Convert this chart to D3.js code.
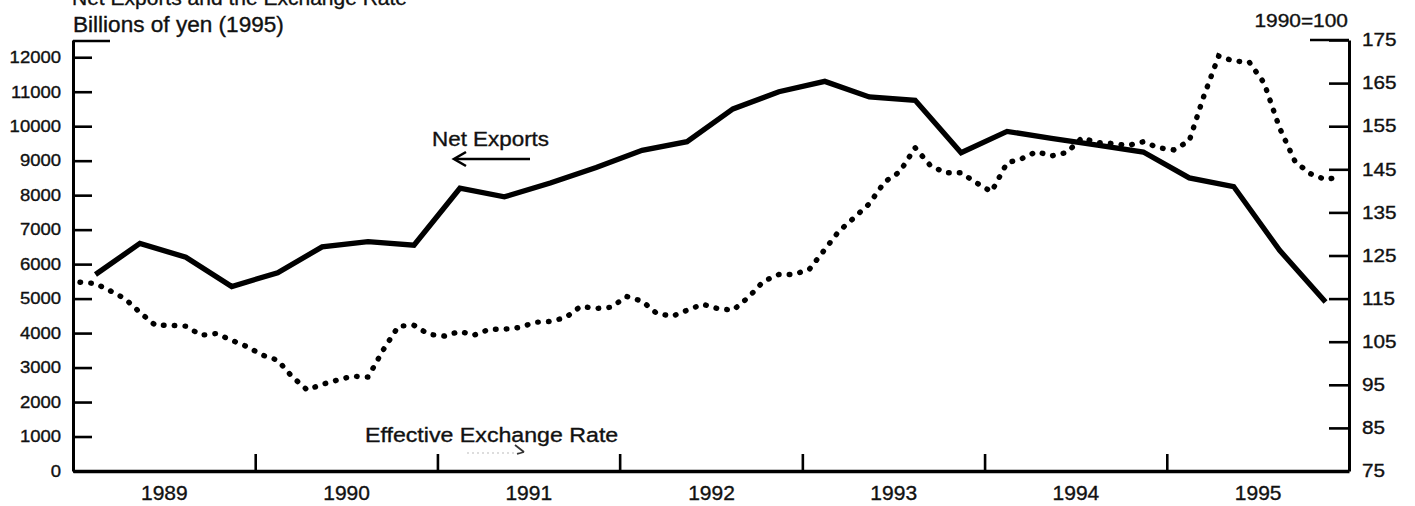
<!DOCTYPE html>
<html>
<head>
<meta charset="utf-8">
<script src="https://cdn.jsdelivr.net/npm/d3@7/dist/d3.min.js"></script>
<style>
  html, body { margin: 0; padding: 0; background: #fff; }
  svg { display: block; }
  text { font-family: "Liberation Sans", Arial, Helvetica, sans-serif; fill: #111; stroke: #111; stroke-width: 0.35px; }
</style>
</head>
<body>
<svg id="chart" width="1415" height="506"></svg>
<script>
// Calendar years shown on the time axis
const years = [1989, 1990, 1991, 1992, 1993, 1994, 1995];

// Net exports, billions of 1995 yen, quarterly (1989 Q1 .. 1995 Q4)
const netExports = [
  5700, 6600, 6200, 5350,
  5750, 6500, 6650, 6550,
  8200, 7950, 8350, 8800,
  9300, 9550, 10500, 11000,
  11300, 10850, 10750, 9230,
  9850, 9650, 9450, 9250,
  8500, 8250, 6400, 4900
];

// Effective exchange rate of the yen, 1990=100, monthly (Jan 1989 .. Dec 1995)
const exchangeRate = [
  118.8, 118.5, 116.9, 115.0, 111.8, 108.8, 108.8, 108.6, 106.5, 106.9, 105.3, 103.9,
  101.9, 100.7, 97.0, 93.8, 95.1, 96.1, 97.0, 96.8, 103.2, 108.6, 108.8, 106.7,
  106.3, 107.4, 106.5, 107.9, 107.9, 108.3, 109.5, 109.7, 110.6, 113.2, 112.7, 113.0,
  115.5, 114.4, 111.6, 110.9, 112.3, 113.7, 112.7, 112.3, 115.3, 119.0, 120.6, 120.6,
  121.8, 126.4, 130.6, 133.8, 137.0, 142.1, 144.4, 150.0, 145.8, 144.2, 144.2, 141.9,
  139.8, 146.5, 147.4, 149.1, 148.1, 148.9, 152.3, 151.2, 151.0, 150.5, 151.4, 150.0,
  149.5, 151.6, 161.6, 171.3, 170.1, 169.9, 165.0, 154.6, 146.8, 144.0, 142.6, 143.3
];

// Axis ticks
const leftTicks = d3.range(0, 12001, 1000);
const rightTicks = [75, 85, 95, 105, 115, 125, 135, 145, 155, 165, 175];
const leftDomain = [0, 12500];
const rightDomain = [75, 175];

// Texts
const titleText = "Net Exports and the Exchange Rate";
const leftUnit = "Billions of yen (1995)";
const rightUnit = "1990=100";
const netLabel = "Net Exports";
const rateLabel = "Effective Exchange Rate";

// ---------------------------------------------------------------
const svg = d3.select("#chart");
const plot = { left: 73, right: 1349, top: 40, bottom: 471 };

const x = d3.scaleTime()
  .domain([new Date(years[0], 0, 1), new Date(years[years.length - 1] + 1, 0, 1)])
  .range([plot.left, plot.right]);
const yL = d3.scaleLinear().domain(leftDomain).range([plot.bottom, plot.top]);
const yR = d3.scaleLinear().domain(rightDomain).range([plot.bottom, plot.top]);

// widen glyphs horizontally to the printed proportions
function widen(sel, factor) {
  sel.each(function () {
    const len = this.getComputedTextLength();
    d3.select(this).attr("textLength", len * factor).attr("lengthAdjust", "spacingAndGlyphs");
  });
}

// Series points
const neData = netExports.map((v, i) => ({
  date: new Date(years[0] + Math.floor(i / 4), (i % 4) * 3 + 1, 15), v
}));
const erData = exchangeRate.map((v, i) => ({
  date: new Date(years[0] + Math.floor(i / 12), i % 12, 15), v
}));

// Exchange rate: dotted line on the right scale
svg.append("path")
  .datum(erData)
  .attr("fill", "none")
  .attr("stroke", "#000")
  .attr("stroke-width", 5.4)
  .attr("stroke-linecap", "round")
  .attr("stroke-dasharray", "0.6 10.2")
  .attr("d", d3.line().x(d => x(d.date)).y(d => yR(d.v)));

// Net exports: heavy solid line on the left scale
svg.append("path")
  .datum(neData)
  .attr("fill", "none")
  .attr("stroke", "#000")
  .attr("stroke-width", 5.3)
  .attr("stroke-linejoin", "miter")
  .attr("d", d3.line().x(d => x(d.date)).y(d => yL(d.v)));

// Left axis (ticks point inward)
const gL = svg.append("g")
  .attr("transform", `translate(${plot.left},0)`)
  .call(d3.axisLeft(yL).tickValues(leftTicks).tickSizeInner(-19).tickSizeOuter(0).tickPadding(12)
        .tickFormat(d3.format("d")));
gL.select(".domain").attr("stroke", "#000").attr("stroke-width", 3);
gL.selectAll(".tick line").attr("stroke", "#000").attr("stroke-width", 2.6);
gL.selectAll(".tick text").attr("font-size", 16.5).attr("fill", "#111")
  .attr("font-family", '"Liberation Sans", Arial, sans-serif').call(widen, 1.12);

// Right axis (ticks point inward)
const gR = svg.append("g")
  .attr("transform", `translate(${plot.right},0)`)
  .call(d3.axisRight(yR).tickValues(rightTicks).tickSizeInner(-20).tickSizeOuter(0).tickPadding(13)
        .tickFormat(d3.format("d")));
gR.select(".domain").attr("stroke", "#000").attr("stroke-width", 3);
gR.selectAll(".tick line").attr("stroke", "#000").attr("stroke-width", 2.6);
gR.selectAll(".tick text").attr("font-size", 18).attr("fill", "#111")
  .attr("font-family", '"Liberation Sans", Arial, sans-serif').call(widen, 1.15);

// Bottom axis: year boundaries as upward ticks
const yearStarts = years.slice(1).map(y => new Date(y, 0, 1));
const gB = svg.append("g")
  .attr("transform", `translate(0,${plot.bottom})`)
  .call(d3.axisBottom(x).tickValues(yearStarts).tickSizeInner(-17).tickSizeOuter(0).tickFormat(""));
gB.select(".domain").attr("stroke", "#000").attr("stroke-width", 3.4);
gB.selectAll(".tick line").attr("stroke", "#000").attr("stroke-width", 2.6);

// Year labels centred in each year
const yearMids = years.map(y => new Date(y, 6, 2));
const gY = svg.append("g")
  .attr("transform", `translate(0,${plot.bottom})`)
  .call(d3.axisBottom(x).tickValues(yearMids).tickSize(0).tickPadding(14)
        .tickFormat(d3.timeFormat("%Y")));
gY.select(".domain").remove();
gY.selectAll(".tick text").attr("font-size", 21).attr("fill", "#111")
  .attr("font-family", '"Liberation Sans", Arial, sans-serif');

// Short frame caps at the top of both axes
svg.append("line")
  .attr("x1", plot.left).attr("x2", plot.left + 37)
  .attr("y1", yL.range()[1] + 1).attr("y2", yL.range()[1] + 1)
  .attr("stroke", "#000").attr("stroke-width", 2.6);
svg.append("line")
  .attr("x1", plot.right - 39).attr("x2", plot.right)
  .attr("y1", yR.range()[1]).attr("y2", yR.range()[1])
  .attr("stroke", "#000").attr("stroke-width", 2.6);

// Title and unit captions
svg.append("text").attr("x", plot.left - 1).attr("y", 5)
  .attr("font-size", 21).text(titleText);
svg.append("text").attr("x", plot.left).attr("y", 32)
  .attr("font-size", 21.5).text(leftUnit).call(widen, 1.05);
svg.append("text").attr("x", plot.right - 1).attr("y", 27)
  .attr("text-anchor", "end").attr("font-size", 18.5).text(rightUnit).call(widen, 1.13);

// Series annotations
svg.append("text").attr("x", 432).attr("y", 146)
  .attr("font-size", 20).text(netLabel).call(widen, 1.12);
svg.append("line")
  .attr("x1", 455).attr("x2", 530).attr("y1", 159).attr("y2", 159)
  .attr("stroke", "#000").attr("stroke-width", 2.6);
svg.append("path")
  .attr("d", "M466,152 L454,159 L466,166")
  .attr("fill", "none").attr("stroke", "#000").attr("stroke-width", 2.6);

svg.append("text").attr("x", 365).attr("y", 442)
  .attr("font-size", 20.5).text(rateLabel).call(widen, 1.13);
svg.append("line")
  .attr("x1", 467).attr("x2", 521).attr("y1", 453).attr("y2", 453)
  .attr("stroke", "#bbb").attr("stroke-width", 1.2).attr("stroke-dasharray", "2 3");
svg.append("path")
  .attr("d", "M515,445 L524,452 M517,454 L524,452")
  .attr("fill", "none").attr("stroke", "#333").attr("stroke-width", 1.8);
</script>
</body>
</html>
